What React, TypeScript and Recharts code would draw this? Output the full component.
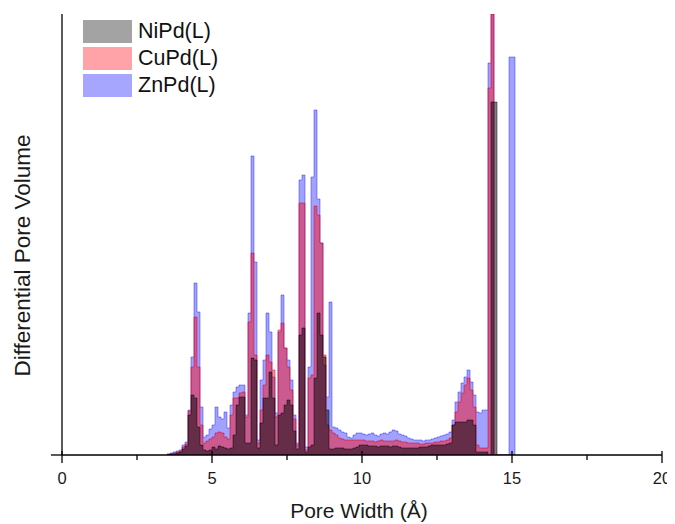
import React from "react";
import { ComposedChart, Area, XAxis, YAxis, ReferenceLine } from "recharts";

// Pore width bin left edges (Å)
const poreWidth = [
  3.5, 3.6, 3.7, 3.8, 3.9,
  4.0, 4.1, 4.2, 4.3, 4.4, 4.5, 4.6, 4.7, 4.8, 4.9,
  5.0, 5.1, 5.2, 5.3, 5.4, 5.5, 5.6, 5.7, 5.8, 5.9,
  6.0, 6.1, 6.2, 6.3, 6.4, 6.5, 6.6, 6.7, 6.8, 6.9,
  7.0, 7.1, 7.2, 7.3, 7.4, 7.5, 7.6, 7.7, 7.8, 7.9,
  8.0, 8.1, 8.2, 8.3, 8.4, 8.5, 8.6, 8.7, 8.8, 8.9,
  9.0, 9.1, 9.2, 9.3, 9.4, 9.5, 9.6, 9.7, 9.8, 9.9,
  10.0, 10.1, 10.2, 10.3, 10.4, 10.5, 10.6, 10.7, 10.8, 10.9,
  11.0, 11.1, 11.2, 11.3, 11.4, 11.5, 11.6, 11.7, 11.8, 11.9,
  12.0, 12.1, 12.2, 12.3, 12.4, 12.5, 12.6, 12.7, 12.8, 12.9,
  13.0, 13.1, 13.2, 13.3, 13.4, 13.5, 13.6, 13.7, 13.8, 13.9,
  14.0, 14.1, 14.2, 14.3, 14.4, 14.5, 14.6, 14.7, 14.8, 14.9,
  15.0, 15.1,
];

const znPd = [
  1, 2, 3, 4, 5,
  10, 13, 45, 98, 172, 143, 48, 18, 20, 26,
  30, 48, 38, 36, 43, 27, 50, 63, 68, 70,
  70, 40, 142, 299, 193, 15, 75, 95, 142, 123,
  78, 42, 123, 160, 107, 95, 75, 40, 12, 275,
  280, 8, 88, 278, 345, 256, 212, 90, 58, 153,
  28, 27, 25, 23, 22, 18, 17, 20, 22, 22,
  21, 20, 21, 22, 20, 19, 21, 22, 21, 23,
  25, 24, 21, 20, 19, 17, 16, 15, 15, 15,
  14, 15, 15, 16, 17, 18, 19, 20, 21, 23,
  35, 53, 63, 72, 78, 85, 73, 60, 43, 42,
  45, 45, 392, 441, 0, 0, 0, 0, 0, 398,
  398, 0,
];

const cuPd = [
  1, 1, 2, 3, 4,
  8, 11, 44, 88, 138, 88, 30, 12, 14, 16,
  18, 22, 23, 22, 18, 16, 40, 57, 57, 62,
  63, 38, 133, 202, 100, 12, 45, 70, 100, 93,
  85, 38, 125, 132, 107, 88, 65, 36, 10, 252,
  252, 5, 77, 80, 249, 240, 212, 100, 30, 25,
  22, 20, 17, 16, 15, 15, 15, 15, 15, 15,
  15, 14, 14, 14, 13, 14, 15, 14, 14, 14,
  14, 15, 14, 13, 13, 12, 12, 12, 12, 11,
  11, 12, 12, 12, 13, 13, 14, 14, 15, 17,
  30, 43, 53, 62, 70, 77, 65, 48, 10, 7,
  7, 7, 367, 441, 0, 0, 0, 0, 0, 0,
  0, 0,
];

const niPd = [
  0, 1, 1, 2, 3,
  6, 9, 40, 60, 57, 28, 10, 5, 4, 5,
  8, 6, 9, 8, 7, 6, 7, 20, 50, 58,
  58, 12, 12, 97, 95, 7, 32, 57, 57, 83,
  57, 10, 40, 42, 50, 55, 50, 24, 6, 120,
  127, 3, 8, 10, 77, 142, 120, 98, 45, 6,
  6, 7, 7, 7, 6, 6, 6, 7, 8, 10,
  10, 10, 9, 9, 9, 8, 9, 9, 9, 8,
  9, 9, 8, 7, 7, 7, 7, 7, 7, 8,
  8, 8, 9, 10, 10, 10, 10, 10, 11, 12,
  30, 33, 33, 33, 33, 35, 35, 30, 3, 3,
  3, 3, 0, 353, 353, 0, 0, 0, 0, 0,
  0, 0,
];

const xTicks = [0, 2.5, 5, 7.5, 10, 12.5, 15, 17.5, 20];
const seriesNames = ["NiPd(L)", "CuPd(L)", "ZnPd(L)"];
const legendColors = ["#a3a3a3", "#ffa3a8", "#a6a6ff"];

const data = poreWidth.map((x, i) => ({
  x,
  ni: niPd[i],
  cu: cuPd[i],
  zn: znPd[i],
}));

const FONT = "'Liberation Sans', Arial, Helvetica, sans-serif";

const renderTick = (props: any) => {
  const { x, y, payload } = props;
  const axisY = y - 16;
  const v = payload.value;
  const major = v % 5 === 0;
  return (
    <g>
      <line
        x1={x}
        x2={x}
        y1={major ? axisY - 4 : axisY}
        y2={axisY + (major ? 8 : 5)}
        stroke="#000"
        strokeWidth={1.3}
      />
      {major && (
        <text
          x={x}
          y={axisY + 23}
          textAnchor="middle"
          dominantBaseline="central"
          fontSize={16.5}
          fontFamily={FONT}
          fill="#1a1a1a"
        >
          {v}
        </text>
      )}
    </g>
  );
};

const XLabel = (props: any) => {
  const vb = props.viewBox || {};
  return (
    <text
      x={vb.x + vb.width / 2 - 3}
      y={vb.y + 55}
      textAnchor="middle"
      dominantBaseline="central"
      fontSize={21}
      fontFamily={FONT}
      fill="#1a1a1a"
    >
      Pore Width (Å)
    </text>
  );
};

const YLabel = (props: any) => {
  const vb = props.viewBox || {};
  const cx = vb.x + 14;
  const cy = vb.y + vb.height / 2 + 21;
  return (
    <text
      x={cx}
      y={cy}
      transform={`rotate(-90, ${cx}, ${cy})`}
      textAnchor="middle"
      dominantBaseline="central"
      fontSize={22.5}
      fontFamily={FONT}
      fill="#1a1a1a"
    >
      Differential Pore Volume
    </text>
  );
};

export default function App() {
  return (
    <div style={{ position: "relative", width: 667, height: 516 }}>
      <ComposedChart
        width={667}
        height={516}
        data={data}
        margin={{ top: 6, right: 13, bottom: 9, left: 0 }}
      >
        <XAxis
          type="number"
          dataKey="x"
          domain={[0, 20]}
          ticks={xTicks}
          interval={0}
          tickSize={6}
          tickMargin={10}
          tickLine={false}
          tick={renderTick}
          axisLine={{ stroke: "#000", strokeWidth: 1.3 }}
          height={60}
          label={<XLabel />}
        />
        <YAxis
          type="number"
          domain={[0, 441]}
          allowDataOverflow
          tick={false}
          tickLine={false}
          axisLine={{ stroke: "#000", strokeWidth: 1.3 }}
          width={54}
          label={<YLabel />}
        />
        <Area
          type="stepAfter"
          dataKey="zn"
          fill="#0000ff"
          fillOpacity={0.37}
          stroke="#2020ff"
          strokeOpacity={0.45}
          strokeWidth={1}
          dot={false}
          activeDot={false}
          isAnimationActive={false}
        />
        <Area
          type="stepAfter"
          dataKey="cu"
          fill="#ff0000"
          fillOpacity={0.44}
          stroke="#e00020"
          strokeOpacity={0.5}
          strokeWidth={1}
          dot={false}
          activeDot={false}
          isAnimationActive={false}
        />
        <Area
          type="stepAfter"
          dataKey="ni"
          fill="#000000"
          fillOpacity={0.5}
          stroke="#000000"
          strokeOpacity={0.45}
          strokeWidth={1}
          dot={false}
          activeDot={false}
          isAnimationActive={false}
        />
        <ReferenceLine
          segment={[
            { x: -0.37, y: 0 },
            { x: 0, y: 0 },
          ]}
          ifOverflow="visible"
          stroke="#000"
          strokeWidth={1.3}
        />
      </ComposedChart>
      <div
        style={{
          position: "absolute",
          left: 75,
          top: 12,
          fontFamily: FONT,
          fontSize: 21.5,
          color: "#111",
        }}
      >
        {seriesNames.map((name, i) => (
          <div
            key={name}
            style={{ display: "flex", alignItems: "center", height: 23, marginBottom: 4 }}
          >
            <div
              style={{ width: 49, height: 23, background: legendColors[i], marginRight: 6 }}
            />
            <span style={{ lineHeight: "23px" }}>{name}</span>
          </div>
        ))}
      </div>
    </div>
  );
}
